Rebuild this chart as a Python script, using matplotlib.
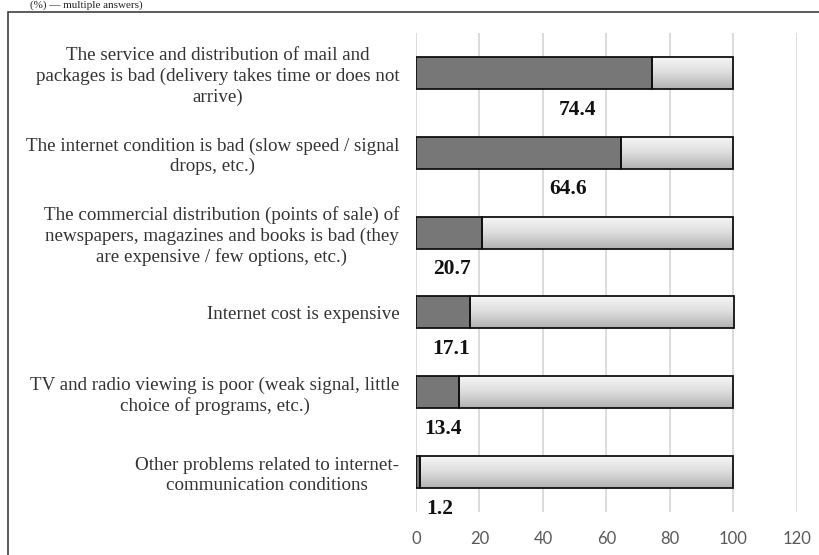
import matplotlib
matplotlib.use("Agg")
import matplotlib.pyplot as plt
import numpy as np
from matplotlib.colors import LinearSegmentedColormap
from matplotlib.patches import Rectangle

categories = [
    "The service and distribution of mail and\npackages is bad (delivery takes time or does not\narrive)",
    "The internet condition is bad (slow speed / signal\ndrops, etc.)",
    "The commercial distribution (points of sale) of\nnewspapers, magazines and books is bad (they\nare expensive / few options, etc.)",
    "Internet cost is expensive",
    "TV and radio viewing is poor (weak signal, little\nchoice of programs, etc.)",
    "Other problems related to internet-\ncommunication conditions",
]
values = [74.4, 64.6, 20.7, 17.1, 13.4, 1.2]
total = 100
xticks = [0, 20, 40, 60, 80, 100, 120]
caption = "(%) \u2014 multiple answers)"

# layout: x position of each value label (centre)
label_x = [50.8, 47.9, 11.4, 11.0, 8.6, 7.4]

W, H = 820, 555
fig = plt.figure(figsize=(W / 100, H / 100), dpi=100)
ax = fig.add_axes([416 / W, 1 - 512 / H, (797 - 416) / W, (512 - 33) / H])

y = np.arange(len(categories))
rest = [total - v for v in values]

ax.barh(y, values, height=0.4, color="#777777", edgecolor="#111111", lw=1.3, zorder=4)
bars = ax.barh(y, rest, left=values, height=0.4, facecolor="none",
               edgecolor="#111111", lw=1.3, zorder=4)

cmap = LinearSegmentedColormap.from_list("g", ["#f6f6f6", "#dcdcdc", "#b2b2b2"])
grad = np.linspace(0, 1, 128).reshape(-1, 1)
for b in bars:
    x0, y0, w, h = b.get_x(), b.get_y(), b.get_width(), b.get_height()
    im = ax.imshow(grad, cmap=cmap, aspect="auto", extent=[x0, x0 + w, y0 + h, y0],
                   origin="upper", zorder=3, interpolation="bilinear")
    im.set_clip_path(b)

ax.set_xlim(0, 120)
ax.set_ylim(len(categories) - 0.5, -0.5)
ax.set_xticks(xticks)
ax.set_xticklabels([str(t) for t in xticks], family="Lato", fontsize=12, color="#595959")
ax.set_yticks(y)
ax.set_yticklabels(categories, family="Liberation Serif", fontsize=13.7,
                   multialignment="center", linespacing=1.25, color="#333333")
ax.tick_params(axis="y", length=0, pad=12)
ax.tick_params(axis="x", length=0, pad=14)
ax.xaxis.grid(True, color="#d9d9d9", lw=1.3)
ax.set_axisbelow(True)
for s in ax.spines.values():
    s.set_visible(False)

for i, (v, lx) in enumerate(zip(values, label_x)):
    ax.text(lx, i + 0.46, f"{v}", ha="center", va="center", fontweight="bold",
            family="Liberation Serif", fontsize=15.5, color="#111111", zorder=6)

fig.text(30 / W, 1 - 0.5 / H, caption, ha="left", va="top",
         family="Liberation Serif", fontsize=8, color="#222222")

fig.add_artist(Rectangle((8 / W, -0.05), 1.2, (1 - 12 / H) + 0.05,
                         transform=fig.transFigure, fill=False,
                         edgecolor="#404040", lw=1.2))

fig.savefig("out.png", dpi=100)
